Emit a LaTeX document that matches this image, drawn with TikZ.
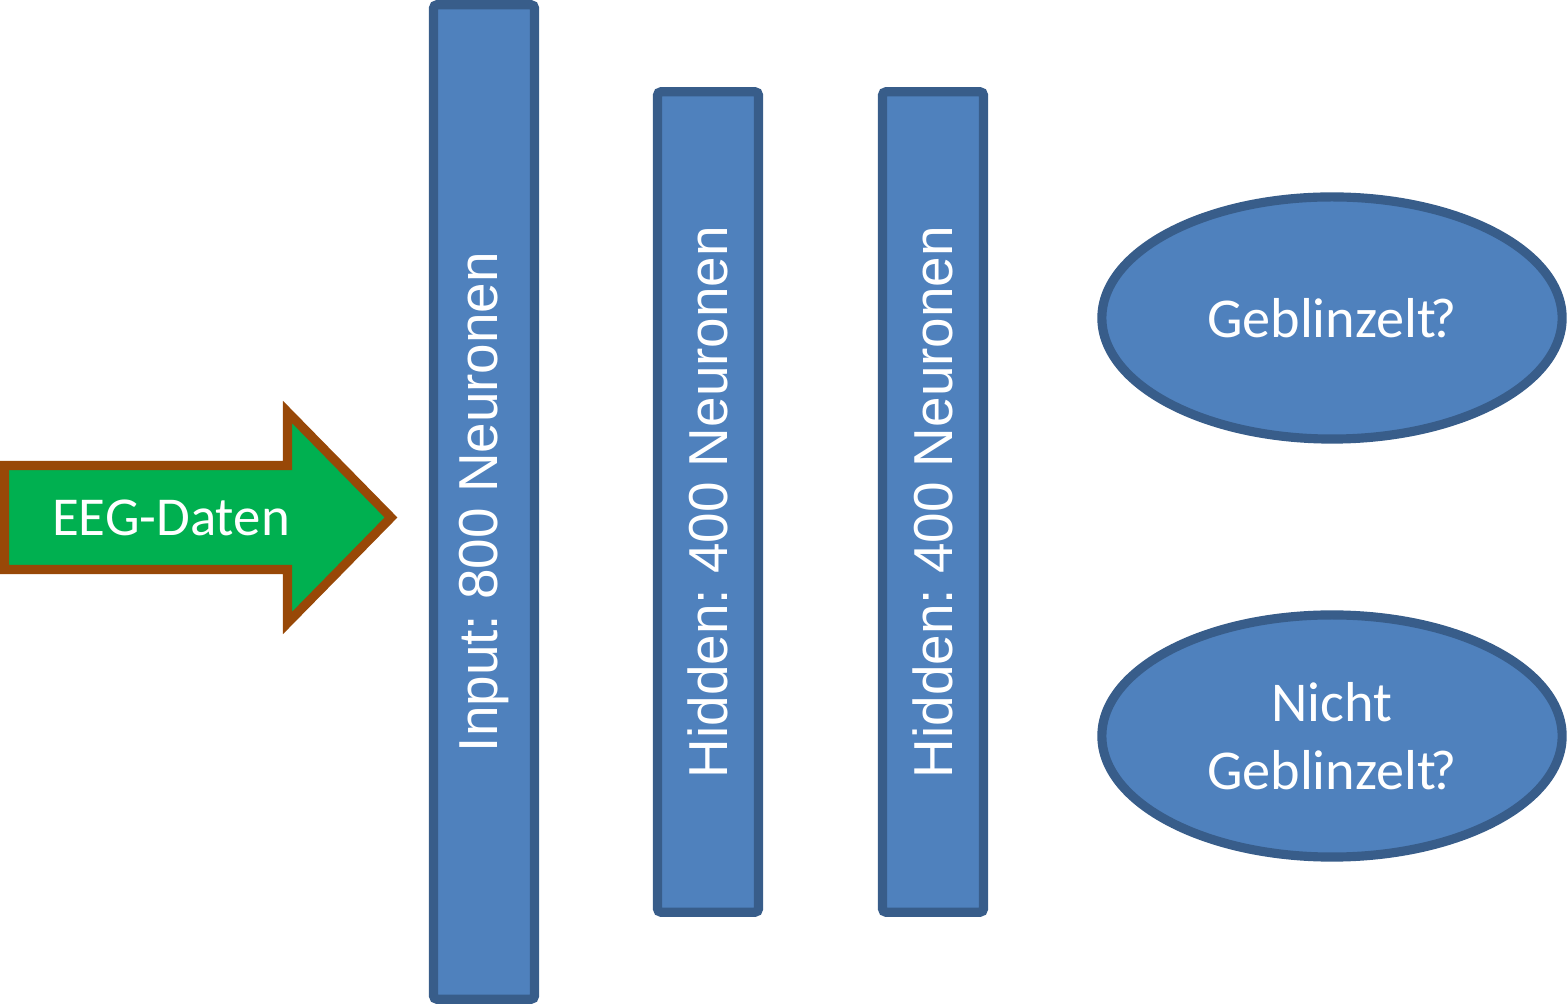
\documentclass[tikz,border=0pt]{standalone}
\usepackage{fontspec}
\setmainfont{Carlito}
\newfontfamily\arialfont{Liberation Sans}
\usetikzlibrary{shapes.geometric}
\definecolor{schichtblau}{HTML}{4F81BD}
\definecolor{schichtrand}{HTML}{385D8A}
\definecolor{pfeilgruen}{HTML}{00B050}
\definecolor{pfeilbraun}{HTML}{984807}
\tikzset{
  schicht/.style={draw=schichtrand,fill=schichtblau,line width=2.6pt,rounded corners=1pt,
    rotate=90,minimum height=1.01cm,inner sep=0pt,text=white,font=\arialfont\fontsize{15.6}{18.7}\selectfont},
  ausgabe/.style={ellipse,draw=schichtrand,fill=schichtblau,line width=2.6pt,minimum width=4.6cm,
    minimum height=2.42cm,inner sep=0pt,align=center,text=white,font=\fontsize{16}{19.2}\selectfont}
}
\newcommand{\frage}{\kern-1.5pt?}
\frenchspacing
\begin{document}
\begin{tikzpicture}[x=0.01cm,y=-0.01cm]
\useasboundingbox (0,0) rectangle (1567,1007);

% Eingabe
\draw[draw=pfeilbraun,fill=pfeilgruen,line width=2.6pt,miter limit=10]
  (4.5,465.5) -- (287.5,465.5) -- (287.5,412) -- (391,517.5) -- (287.5,623) -- (287.5,569.5) -- (4.5,569.5) -- cycle;
\node[text=white,font=\fontsize{15.6}{18.7}\selectfont] (eeg) at (171,518) {EEG-Daten};

% Schichten
\node[schicht,minimum width=9.94cm] (input) at (484,502) {Input: 800 Neuronen};
\node[schicht,minimum width=8.20cm] (hidden1) at (708,502) {Hidden: 400 Neuronen};
\node[schicht,minimum width=8.20cm] (hidden2) at (933,502) {Hidden: 400 Neuronen};

% Ausgabe
\node[ausgabe] (ja) at (1332,318) {Geblinzelt\frage};
\node[ausgabe] (nein) at (1332,736) {Nicht\\Geblinzelt\frage};
\end{tikzpicture}
\end{document}
